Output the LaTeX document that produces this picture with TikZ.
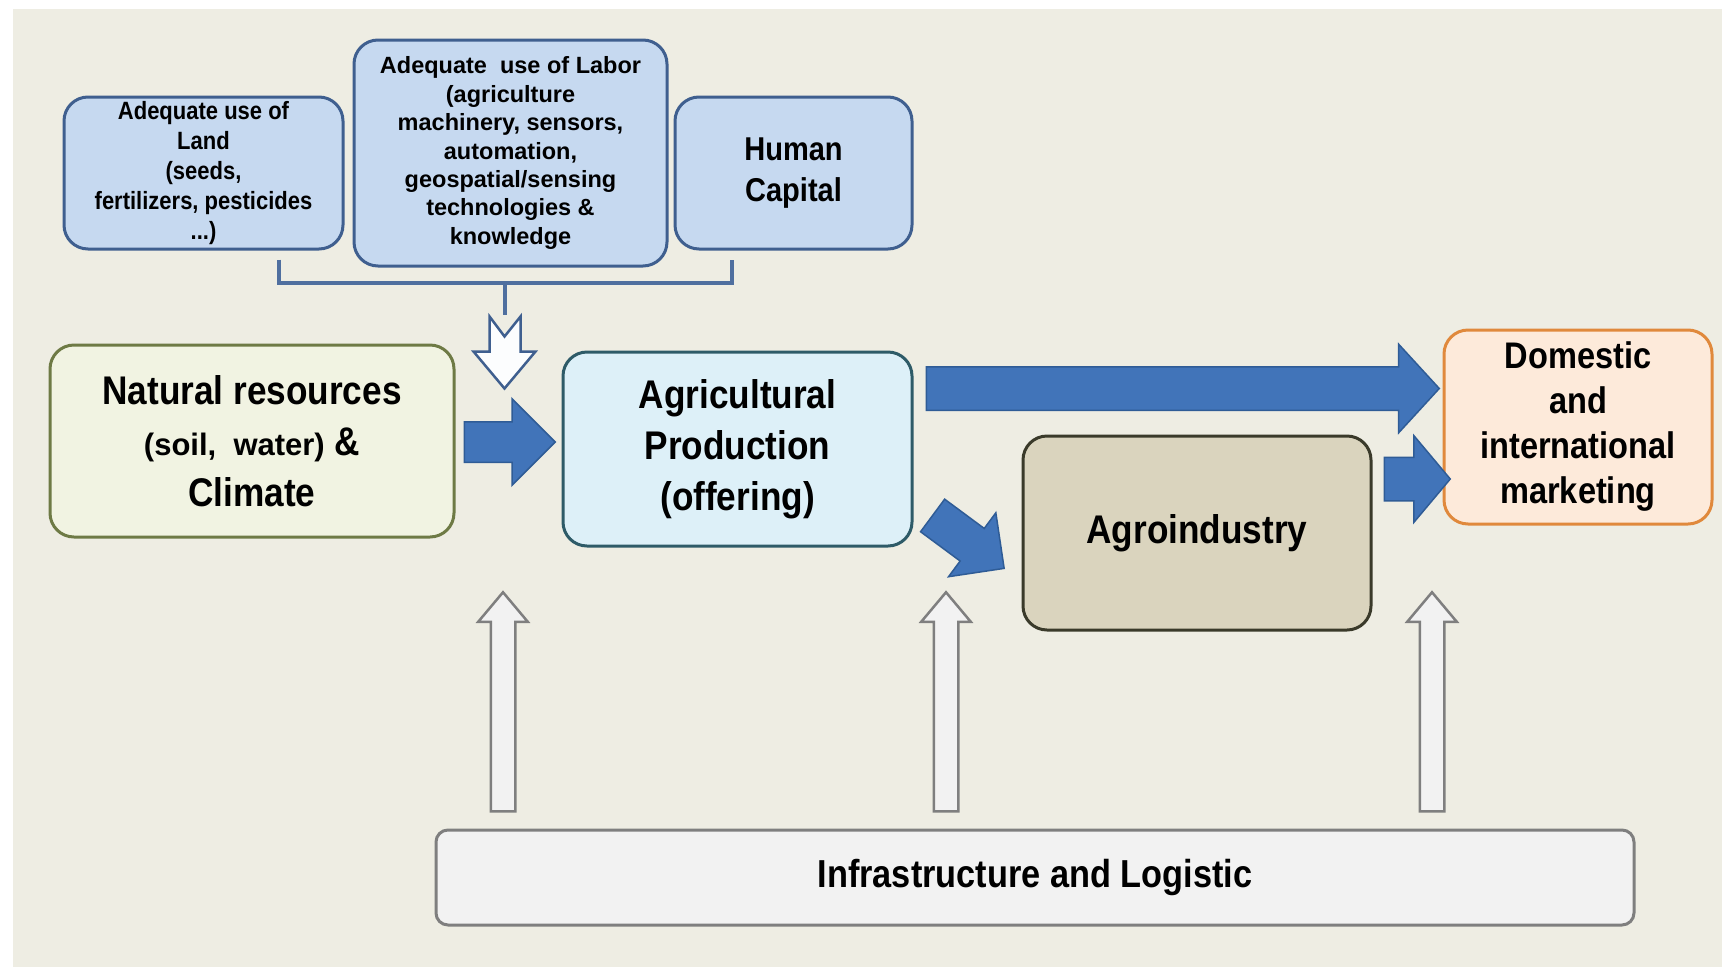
\documentclass[tikz,border=0pt]{standalone}
\usepackage{fontspec}
\setmainfont{Liberation Sans}
\newfontfamily\condsf[FakeStretch=0.88]{Liberation Sans}
\usepackage{tikz}
\usetikzlibrary{calc}
\usetikzlibrary{shapes.arrows}
\definecolor{bgcol}{HTML}{EEEDE3}
\definecolor{topfill}{HTML}{C6D9F0}
\definecolor{topedge}{HTML}{3F5F8F}
\definecolor{natfill}{HTML}{F1F3E2}
\definecolor{natedge}{HTML}{6E7A45}
\definecolor{agrifill}{HTML}{DDF0F8}
\definecolor{agriedge}{HTML}{2E5B68}
\definecolor{mktfill}{HTML}{FDEADA}
\definecolor{mktedge}{HTML}{E0893C}
\definecolor{agrofill}{HTML}{DAD4BE}
\definecolor{agroedge}{HTML}{3A3A2A}
\definecolor{infrafill}{HTML}{F2F2F2}
\definecolor{infraedge}{HTML}{7F7F7F}
\definecolor{arrowblue}{HTML}{4174B9}
\definecolor{arrowedge}{HTML}{2F5C96}
\definecolor{bracketblue}{HTML}{4F6F9F}
\tikzset{%
  mybox/.style={rounded corners=24pt, line width=3pt, align=center, inner sep=0pt},
  topbox/.style={mybox, draw=topedge, fill=topfill, minimum height=152pt},
  bigtext/.style={font=\condsf\bfseries\fontsize{40}{51}\selectfont},
  myarrow/.style={single arrow, draw=arrowedge, fill=arrowblue, line width=1.5pt,
    inner xsep=0pt, anchor=tail},
  uparrow/.style={single arrow, draw=infraedge, fill=infrafill, line width=2.5pt,
    inner xsep=0pt, inner ysep=11pt, single arrow head extend=12.5pt,
    single arrow tip angle=80, minimum height=219pt, rotate=90, anchor=tail},
  mybracket/.style={draw=bracketblue, line width=4pt}
}
\begin{document}
\begin{tikzpicture}[x=1pt, y=-1pt]
  \useasboundingbox (0,0) rectangle (1725,967);
  \fill[bgcol] (13,9) rectangle (1722,967);

  % top inputs
  \node[topbox, minimum width=279pt, font=\condsf\bfseries\fontsize{25}{30}\selectfont] (land) at (203.5,173)
    {Adequate use of\\Land\\(seeds,\\fertilizers, pesticides\\...)};
  \node[topbox, minimum width=313pt, minimum height=226pt, font=\bfseries\fontsize{23.5}{28.4}\selectfont] (labor) at (510.5,153)
    {Adequate\ \ use of Labor\\(agriculture\\machinery, sensors,\\automation,\\geospatial/sensing\\technologies \&\\knowledge};
  \node[topbox, minimum width=237pt, font=\condsf\bfseries\fontsize{33}{41}\selectfont] (human) at (793.5,173)
    {Human\\Capital};

  % main chain
  \node[mybox, bigtext, draw=natedge, fill=natfill, minimum width=404pt, minimum height=192pt] (nat) at (252,441)
    {Natural resources\\{\normalfont\bfseries\fontsize{31}{51}\selectfont(soil,\ \ water)} \&\\Climate};
  \node[mybox, bigtext, draw=agriedge, fill=agrifill, minimum width=349pt, minimum height=194pt] (agri) at (737.5,449)
    {Agricultural\\Production\\(offering)};
  \node[mybox, bigtext, draw=agroedge, fill=agrofill, minimum width=348pt, minimum height=194pt] (agro) at (1197,533)
    {Agroindustry};
  \node[mybox, draw=mktedge, fill=mktfill, minimum width=268pt, minimum height=194pt,
    font=\condsf\bfseries\fontsize{37}{45}\selectfont] (mkt) at (1578,427)
    {Domestic\\and\\international\\marketing};
  \node[mybox, rounded corners=12pt, draw=infraedge, fill=infrafill, minimum width=1198pt, minimum height=95pt,
    font=\condsf\bfseries\fontsize{39}{45}\selectfont] (infra) at (1035,877.5)
    {Infrastructure and Logistic};

  % bracket joining the inputs
  \coordinate (bl) at ($(land.south)+(75.5,9)$);
  \coordinate (br) at ($(human.south)+(-61.5,9)$);
  \coordinate (fork) at ($(labor.south)+(-5.5,47)$);
  \draw[mybracket] (bl) |- (br |- 0,283) -- (br);
  \draw[mybracket] (fork |- 0,283) -- (fork);
  \draw[draw=topedge, fill=white!95!topfill, line width=2.5pt, line join=miter]
    ($(fork)+(-15.5,2)$) -- ($(fork)+(-0.5,22)$) -- ($(fork)+(15.5,2)$) -- ($(fork)+(15.5,37)$)
    -- ($(fork)+(30.5,37)$) -- ($(fork)+(-0.5,74)$) -- ($(fork)+(-31.5,37)$) -- ($(fork)+(-15.5,37)$) -- cycle;

  % blue flow arrows
  \node[myarrow, inner ysep=19.5pt, single arrow head extend=23pt, single arrow tip angle=90,
    minimum height=91pt] (a1) at ($(nat.east)+(8,1)$) {};
  \node[myarrow, inner ysep=21pt, single arrow head extend=22.5pt, single arrow tip angle=95,
    minimum height=513pt] (a2) at ($(agri.north east)+(12,38)$) {};
  \node[myarrow, inner ysep=21pt, single arrow head extend=21.5pt, single arrow tip angle=100,
    minimum height=66pt] (a3) at ($(agro.east)+(11,-54)$) {};
  \node[myarrow, inner ysep=19.5pt, single arrow head extend=19.5pt, single arrow tip angle=90,
    minimum height=89pt, rotate=-36.5] (a4) at ($(agri.east)+(18.5,66)$) {};

  % support from infrastructure
  \foreach \xx/\nm in {503/u1, 946/u2, 1432/u3}
    \node[uparrow] (\nm) at ($(infra.north -| \xx,0)+(0,-16)$) {};
\end{tikzpicture}
\end{document}
